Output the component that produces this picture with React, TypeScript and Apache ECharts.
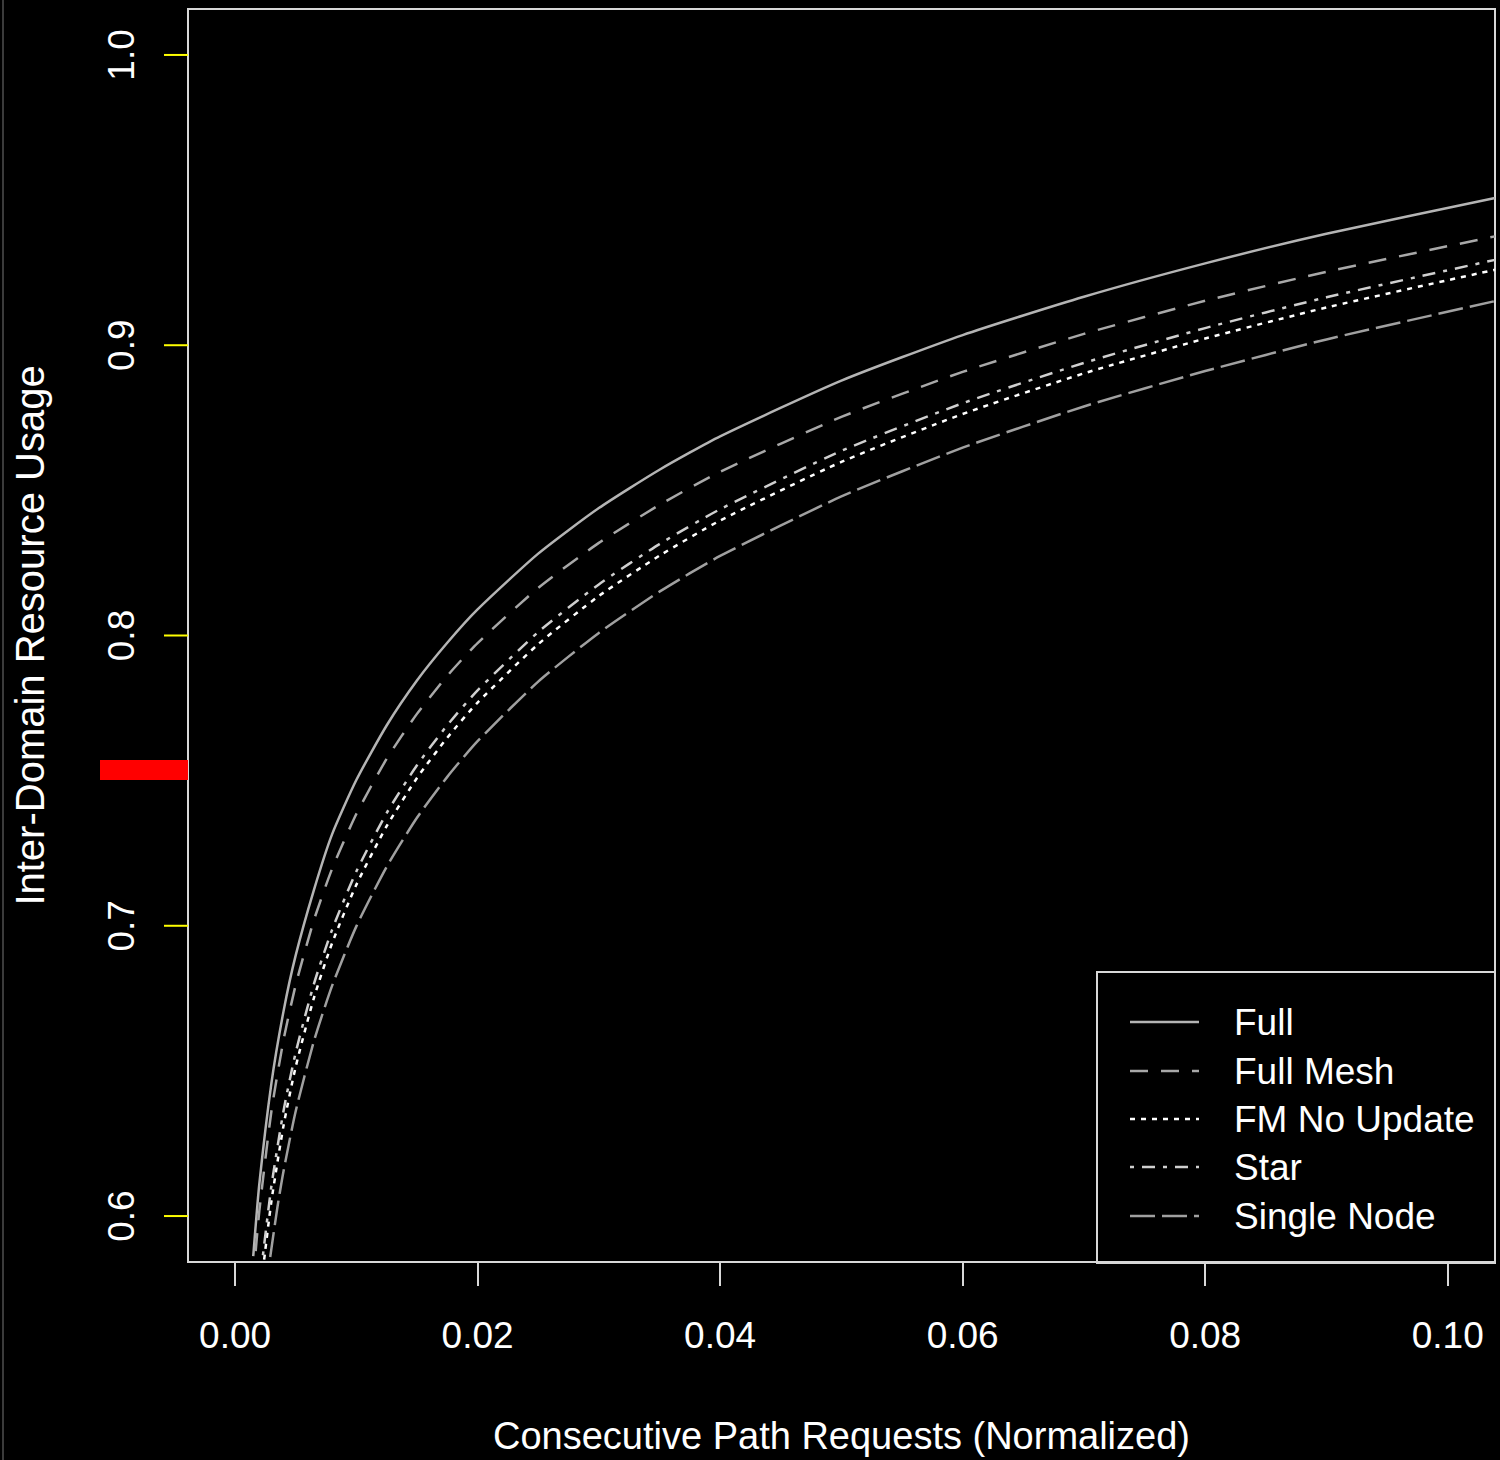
import React, { useEffect, useRef } from "react";
import * as echarts from "echarts";

const seriesNames = ["Full", "Full Mesh", "FM No Update", "Star", "Single Node"];

const full: [number, number][] = [
  [0.0015, 0.5862], [0.002, 0.611], [0.003, 0.6458], [0.004, 0.6706], [0.005, 0.6898],
  [0.0065, 0.7123], [0.008, 0.7315], [0.01, 0.7502], [0.0125, 0.7690], [0.015, 0.7845],
  [0.0175, 0.7975], [0.02, 0.809], [0.025, 0.8282], [0.03, 0.8439], [0.035, 0.8571],
  [0.04, 0.8686], [0.05, 0.8878], [0.06, 0.9035], [0.07, 0.9167], [0.08, 0.9282],
  [0.09, 0.9384], [0.1039, 0.9507],
];

const fullMesh: [number, number][] = [
  [0.0017, 0.5879], [0.002, 0.6017], [0.003, 0.6362], [0.004, 0.6607], [0.005, 0.6796],
  [0.0065, 0.7019], [0.008, 0.7196], [0.01, 0.7385], [0.0125, 0.7575], [0.015, 0.773],
  [0.0175, 0.7861], [0.02, 0.7974], [0.025, 0.8164], [0.03, 0.8319], [0.035, 0.845],
  [0.04, 0.8564], [0.05, 0.8753], [0.06, 0.8908], [0.07, 0.9039], [0.08, 0.9153],
  [0.09, 0.9253], [0.1039, 0.9375],
];

const fmNoUpdate: [number, number][] = [
  [0.0024, 0.585], [0.003, 0.6052], [0.004, 0.6312], [0.005, 0.6514], [0.0065, 0.6751],
  [0.008, 0.694], [0.01, 0.7141], [0.0125, 0.7343], [0.015, 0.7509], [0.0175, 0.7648],
  [0.02, 0.7769], [0.025, 0.797], [0.03, 0.8136], [0.035, 0.8275], [0.04, 0.8396],
  [0.05, 0.8598], [0.06, 0.8763], [0.07, 0.8903], [0.08, 0.9023], [0.09, 0.913],
  [0.1039, 0.926],
];

const star: [number, number][] = [
  [0.0023, 0.5865], [0.003, 0.6104], [0.004, 0.6363], [0.005, 0.6563], [0.0065, 0.6799],
  [0.008, 0.6986], [0.01, 0.7187], [0.0125, 0.7388], [0.015, 0.7553], [0.0175, 0.7691],
  [0.02, 0.7811], [0.025, 0.8012], [0.03, 0.8176], [0.035, 0.8315], [0.04, 0.8435],
  [0.05, 0.8636], [0.06, 0.88], [0.07, 0.8939], [0.08, 0.9059], [0.09, 0.9165],
  [0.1039, 0.9294],
];

const singleNode: [number, number][] = [
  [0.0029, 0.5859], [0.0035, 0.6032], [0.004, 0.6155], [0.005, 0.6361], [0.0065, 0.6602],
  [0.008, 0.6793], [0.01, 0.6998], [0.0125, 0.7203], [0.015, 0.7372], [0.0175, 0.7513],
  [0.02, 0.7636], [0.025, 0.7841], [0.03, 0.8009], [0.035, 0.8151], [0.04, 0.8274],
  [0.05, 0.8479], [0.06, 0.8647], [0.07, 0.8789], [0.08, 0.8911], [0.09, 0.902],
  [0.1038, 0.9151],
];

const xTicks = [0, 0.02, 0.04, 0.06, 0.08, 0.1];
const yTicks = [0.6, 0.7, 0.8, 0.9, 1.0];

const allData = [full, fullMesh, fmNoUpdate, star, singleNode];
const colors = ["#b4b4b4", "#a8a8a8", "#ffffff", "#cfcfcf", "#a0a0a0"];
const dashes: (number[] | "solid")[] = ["solid", [18, 13], [5, 6], [4, 8, 13, 8], [25, 7]];

const FONT = "'Liberation Sans', Arial, Helvetica, sans-serif";
const AXIS_COLOR = "#d8d8d8";

const GRID = { left: 188, top: 9, width: 1307, height: 1254 };
const X_MIN = -0.00388;
const X_MAX = 0.1039;
const Y_MIN = 0.58417;
const Y_MAX = 1.01583;

export default function App() {
  const ref = useRef<HTMLDivElement>(null);
  useEffect(() => {
    if (!ref.current) return;
    const chart = echarts.init(ref.current, null, { renderer: "svg" });
    const legendRows = [1022, 1071, 1119, 1167, 1216];

    const g: any[] = [
      {
        type: "rect",
        shape: { x: 1097, y: 972, width: 398, height: 291 },
        style: { fill: "none", stroke: AXIS_COLOR, lineWidth: 2 },
        z: 100,
      },
      {
        type: "line",
        shape: { x1: 3, y1: 0, x2: 3, y2: 1460 },
        style: { stroke: "#777", lineWidth: 1 },
      },
      // diagnostic marker
      {
        type: "rect",
        shape: { x: 100, y: 760, width: 88, height: 20 },
        style: { fill: "#ff0000" },
        z: 200,
      },
    ];
    seriesNames.forEach((name, i) => {
      const d = dashes[i];
      g.push({
        type: "line",
        shape: { x1: 1130, y1: legendRows[i], x2: 1199, y2: legendRows[i] },
        style: { stroke: colors[i], lineWidth: 2.5, lineDash: d === "solid" ? null : d },
        z: 100,
      });
      g.push({
        type: "text",
        x: 1234,
        y: legendRows[i],
        style: {
          text: name,
          fill: "#ffffff",
          fontSize: 37,
          fontFamily: FONT,
          verticalAlign: "middle",
          align: "left",
        },
        z: 100,
      });
    });

    const lineSeries = allData.map((data, i) => ({
      name: seriesNames[i],
      type: "line",
      data,
      symbol: "none",
      showSymbol: false,
      smooth: 0.2,
      clip: true,
      lineStyle: {
        color: colors[i],
        width: 2.5,
        type: dashes[i],
      },
    }));

    const yTickSeries = {
      name: "yTicks",
      type: "custom",
      silent: true,
      clip: false,
      z: 50,
      data: yTicks.map((v) => [X_MIN, v]),
      renderItem: (params: any, api: any) => {
        const p = api.coord([api.value(0), api.value(1)]);
        return {
          type: "rect",
          shape: { x: p[0] - 24, y: p[1] - 1, width: 24, height: 2 },
          style: { fill: "#ffff00" },
        };
      },
    };

    chart.setOption({
      animation: false,
      backgroundColor: "#000000",
      grid: {
        ...GRID,
        show: true,
        borderColor: AXIS_COLOR,
        borderWidth: 2,
        containLabel: false,
      },
      xAxis: {
        type: "value",
        position: "bottom",
        min: X_MIN,
        max: X_MAX,
        name: "Consecutive Path Requests (Normalized)",
        nameLocation: "middle",
        nameGap: 155,
        nameTextStyle: { color: "#ffffff", fontSize: 38, fontFamily: FONT },
        axisLine: { show: true, onZero: false, lineStyle: { color: AXIS_COLOR, width: 2 } },
        splitLine: { show: false },
        axisTick: {
          show: true,
          inside: false,
          length: 24,
          customValues: xTicks,
          lineStyle: { color: AXIS_COLOR, width: 2 },
        },
        axisLabel: {
          customValues: xTicks,
          color: "#ffffff",
          fontSize: 37,
          fontFamily: FONT,
          margin: 55,
          formatter: (v: number) => v.toFixed(2),
        },
      },
      yAxis: {
        type: "value",
        position: "left",
        min: Y_MIN,
        max: Y_MAX,
        name: "Inter-Domain Resource Usage",
        nameLocation: "middle",
        nameGap: 138,
        nameRotate: 90,
        nameTextStyle: { color: "#ffffff", fontSize: 40, fontFamily: FONT },
        axisLine: { show: false, onZero: false },
        splitLine: { show: false },
        axisTick: { show: false },
        axisLabel: {
          customValues: yTicks,
          color: "#ffffff",
          fontSize: 37,
          fontFamily: FONT,
          margin: 48,
          rotate: 90,
          formatter: (v: number) => v.toFixed(1),
        },
      },
      series: [...lineSeries, yTickSeries],
      graphic: g,
    });
    return () => chart.dispose();
  }, []);
  return (
    <div
      ref={ref}
      style={{ position: "absolute", left: 0, top: 0, width: 1500, height: 1460 }}
    />
  );
}
